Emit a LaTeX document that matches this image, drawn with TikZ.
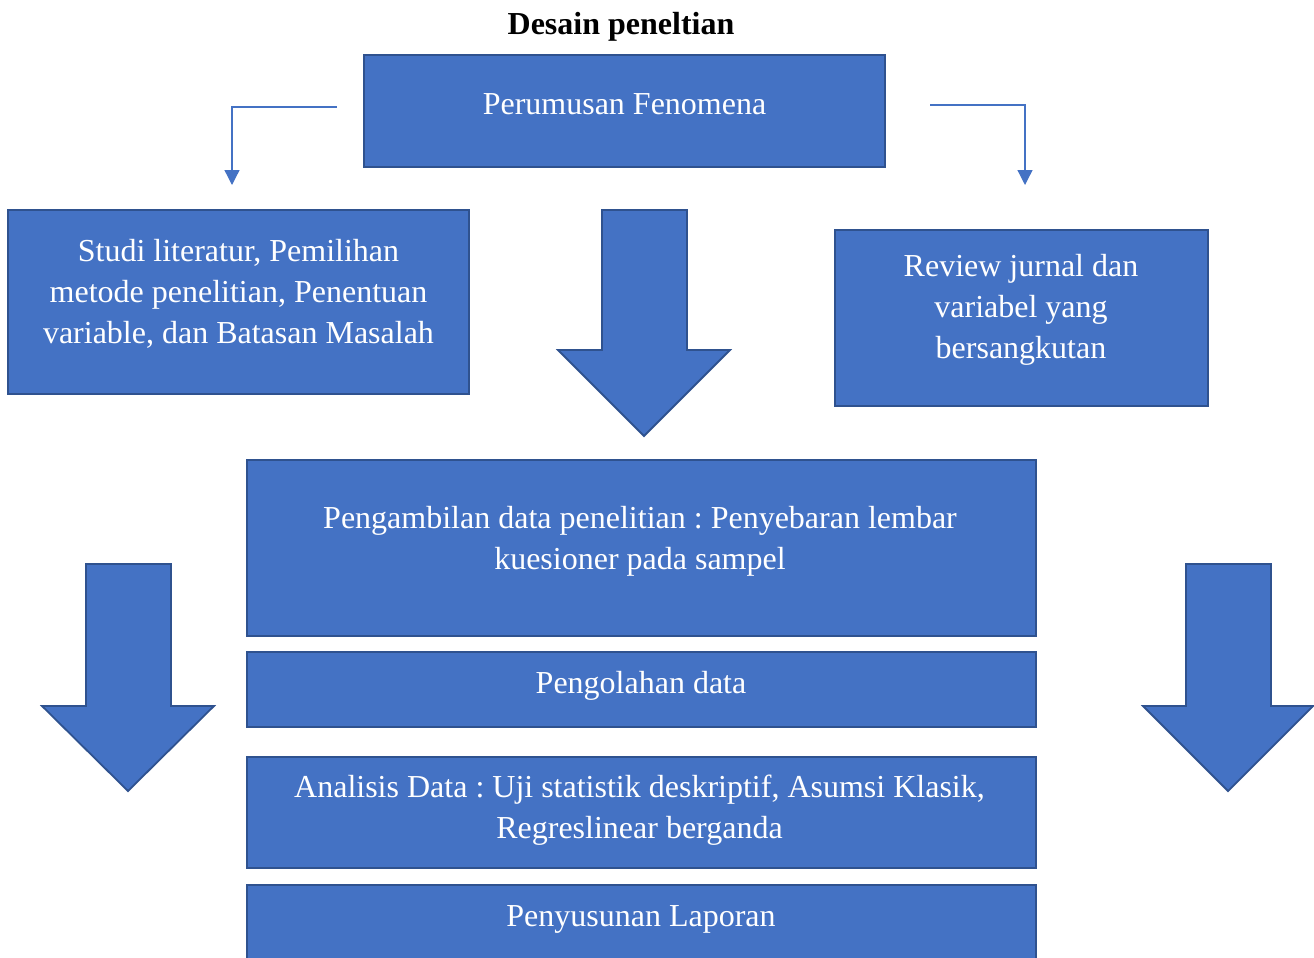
\documentclass[tikz,border=0pt]{standalone}
\usepackage{fontspec}
\setmainfont{Liberation Serif}
\frenchspacing
\usetikzlibrary{arrows.meta}
\definecolor{boxfill}{HTML}{4472C4}
\definecolor{boxline}{HTML}{2F528F}
\begin{document}
\begin{tikzpicture}[x=1pt,y=-1pt,
  box/.style={draw=boxline, fill=boxfill, line width=1.8pt, anchor=north west, inner sep=0pt, outer sep=0pt},
  txt/.style={text=white, font=\fontsize{32}{41}\selectfont, align=center, inner sep=0pt},
  bigarrow/.style={draw=boxline, fill=boxfill, line width=1.8pt, line join=miter},
  elbow/.style={draw=boxfill, line width=1.3pt, -{Triangle[width=15pt,length=15pt]}}]
\useasboundingbox (0,0) rectangle (1314,958);
% title
\node[font=\fontsize{32}{41}\selectfont\bfseries, inner sep=0pt] (title) at (621,27) {Desain peneltian};
% boxes
\node[box, minimum width=521pt, minimum height=112pt] (pf) at (364,55) {};
\node[txt] at (624.5,104) {Perumusan Fenomena};
\node[box, minimum width=461pt, minimum height=184pt] (sl) at (8,210) {};
\node[txt] at (238.5,293.5) {Studi literatur, Pemilihan\\metode penelitian, Penentuan\\variable, dan Batasan Masalah};
\node[box, minimum width=373pt, minimum height=176pt] (rj) at (835,230) {};
\node[txt] at (1021,310) {Review jurnal dan\\variabel yang\\bersangkutan};
\node[box, minimum width=789pt, minimum height=176pt] (pd) at (247,460) {};
\node[txt] at (640,541) {Pengambilan data penelitian : Penyebaran lembar\\kuesioner pada sampel};
\node[box, minimum width=789pt, minimum height=75pt] (po) at (247,652) {};
\node[txt] at (641,686) {Pengolahan data};
\node[box, minimum width=789pt, minimum height=111pt] (ad) at (247,757) {};
\node[txt] at (639.5,810.5) {Analisis Data : Uji statistik deskriptif, Asumsi Klasik,\\Regreslinear berganda};
\node[box, minimum width=789pt, minimum height=90pt] (pl) at (247,885) {};
\node[txt] at (641,919) {Penyusunan Laporan};
% elbow connectors
\coordinate (la) at (337,107);
\coordinate (lb) at (232,185);
\coordinate (ra) at (930,105);
\coordinate (rb) at (1025,185);
\draw[elbow] (la) -| (lb);
\draw[elbow] (ra) -| (rb);
% big block arrows
\draw[bigarrow] (602,210) -- (687,210) -- (687,350) -- (730,350) -- (644,436) -- (558,350) -- (602,350) -- cycle;
\draw[bigarrow] (86,564) -- (171,564) -- (171,706) -- (214,706) -- (128,791) -- (42,706) -- (86,706) -- cycle;
\draw[bigarrow] (1186,564) -- (1271,564) -- (1271,706) -- (1313,706) -- (1228,791) -- (1143,706) -- (1186,706) -- cycle;
\end{tikzpicture}
\end{document}
